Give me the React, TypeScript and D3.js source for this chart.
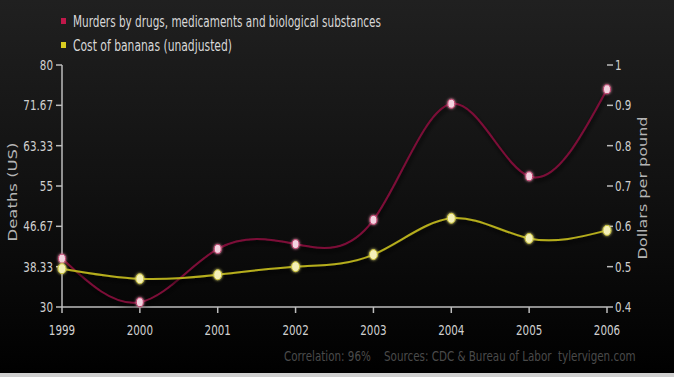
import React from "react";
import * as d3 from "d3";

const years = [1999, 2000, 2001, 2002, 2003, 2004, 2005, 2006];
const murders = [40, 31, 42, 43, 48, 72, 57, 75];
const bananas = [0.495, 0.47, 0.48, 0.5, 0.53, 0.62, 0.57, 0.59];
const leftTicks = [30, 38.33, 46.67, 55, 63.33, 71.67, 80];
const rightTicks = [0.4, 0.5, 0.6, 0.7, 0.8, 0.9, 1];
const legendLabels = [
  "Murders by drugs, medicaments and biological substances",
  "Cost of bananas (unadjusted)",
];
const footerParts = ["Correlation: 96%", "Sources: CDC & Bureau of Labor", "tylervigen.com"];

const W = 674;
const H = 377;
const X0 = 62;
const X1 = 607;
const Y0 = 307;
const Y1 = 65;
const SX = 0.74;

const font = "'DejaVu Sans', sans-serif";

function NText(props: {
  x: number;
  y: number;
  anchor?: string;
  size?: number;
  fill?: string;
  children: React.ReactNode;
}) {
  return (
    <text
      transform={`translate(${props.x},${props.y}) scale(${SX},1)`}
      textAnchor={props.anchor || "start"}
      fontFamily={font}
      fontSize={props.size || 14}
      fill={props.fill || "#cfcfcf"}
    >
      {props.children}
    </text>
  );
}

export default function App() {
  const x = d3.scaleLinear().domain([1999, 2006]).range([X0, X1]);
  const yL = d3.scaleLinear().domain([30, 80]).range([Y0, Y1]);
  const yR = d3.scaleLinear().domain([0.4, 1]).range([Y0, Y1]);

  const mPts = murders.map((v, i) => [x(years[i]), yL(v)] as [number, number]);
  const bPts = bananas.map((v, i) => [x(years[i]), yR(v)] as [number, number]);
  const line = d3.line().curve(d3.curveNatural);

  const crimson = "#7d0f38";
  const olive = "#b5ad1c";
  const axisC = "#bdbdbd";
  const footX = [284, 384, 558];

  return (
    <div style={{ position: "fixed", left: 0, top: 0 }}>
      <svg width={W} height={H} style={{ display: "block" }}>
        <defs>
          <linearGradient id="bg" x1="0" y1="0" x2="0" y2="1">
            <stop offset="0" stopColor="#202020" />
            <stop offset="0.5" stopColor="#111111" />
            <stop offset="1" stopColor="#000000" />
          </linearGradient>
          <filter id="sh" x="-10%" y="-10%" width="120%" height="130%">
            <feDropShadow dx="1" dy="3" stdDeviation="2" floodColor="#000" floodOpacity="0.9" />
          </filter>
          <filter id="glow" x="-100%" y="-100%" width="300%" height="300%">
            <feGaussianBlur stdDeviation="1.5" result="b" />
            <feMerge>
              <feMergeNode in="b" />
              <feMergeNode in="SourceGraphic" />
            </feMerge>
          </filter>
        </defs>
        <rect x={0} y={0} width={W} height={H} fill="url(#bg)" />
        <rect x={0} y={373} width={W} height={4} fill="#cfcfcf" />

        {/* Legend */}
        {legendLabels.map((t, i) => (
          <g key={t}>
            <rect x={61} y={18 + i * 24} width={5} height={6} fill={i === 0 ? "#c0184a" : "#d8cc20"} />
            <text
              x={73}
              y={27 + i * 24}
              fontFamily={font}
              fontSize={16}
              fill="#d8d8d8"
              textLength={i === 0 ? 308 : 159}
              lengthAdjust="spacingAndGlyphs"
            >
              {t}
            </text>
          </g>
        ))}

        {/* Axes */}
        <line x1={X0} x2={X0} y1={Y1} y2={Y0} stroke={axisC} strokeWidth={1.5} />
        <line x1={X0} x2={X1} y1={Y0} y2={Y0} stroke={axisC} strokeWidth={1.5} />
        {leftTicks.map((t) => (
          <g key={"l" + t}>
            <line x1={X0 - 6} x2={X0} y1={yL(t)} y2={yL(t)} stroke={axisC} strokeWidth={1.5} />
            <NText x={X0 - 9} y={yL(t) + 5} anchor="end">
              {t}
            </NText>
          </g>
        ))}
        {rightTicks.map((t) => (
          <g key={"r" + t}>
            <line x1={X1} x2={X1 + 6} y1={yR(t)} y2={yR(t)} stroke={axisC} strokeWidth={1.5} />
            <NText x={X1 + 8} y={yR(t) + 5}>
              {t}
            </NText>
          </g>
        ))}
        {years.map((yr) => (
          <g key={"x" + yr}>
            <line x1={x(yr)} x2={x(yr)} y1={Y0} y2={Y0 + 6} stroke={axisC} strokeWidth={1.5} />
            <NText x={x(yr)} y={Y0 + 28} anchor="middle" fill="#d0d0d0">
              {yr}
            </NText>
          </g>
        ))}

        {/* Axis titles */}
        <text
          transform={`translate(17, 192) rotate(-90)`}
          textAnchor="middle"
          fontFamily={font}
          fontSize={13}
          fill="#b5b5b5"
          textLength={99}
          lengthAdjust="spacingAndGlyphs"
        >
          Deaths (US)
        </text>
        <text
          transform={`translate(647, 188) rotate(-90)`}
          textAnchor="middle"
          fontFamily={font}
          fontSize={13}
          fill="#b5b5b5"
          textLength={143}
          lengthAdjust="spacingAndGlyphs"
        >
          Dollars per pound
        </text>

        {/* Lines */}
        <path d={line(mPts) || ""} fill="none" stroke={crimson} strokeWidth={2} filter="url(#sh)" />
        <path d={line(bPts) || ""} fill="none" stroke={olive} strokeWidth={2} filter="url(#sh)" />

        {mPts.map((q, i) => (
          <ellipse
            key={"m" + i}
            cx={q[0]}
            cy={q[1]}
            rx={3.5}
            ry={4.5}
            fill="#f3d3e0"
            stroke="#c03a6a"
            strokeWidth={1}
            filter="url(#glow)"
          />
        ))}
        {bPts.map((q, i) => (
          <ellipse
            key={"b" + i}
            cx={q[0]}
            cy={q[1]}
            rx={4}
            ry={5}
            fill="#f4f0b8"
            stroke="#c8c030"
            strokeWidth={1}
            filter="url(#glow)"
          />
        ))}

        {/* Footer */}
        {footerParts.map((t, i) => (
          <NText key={t} x={footX[i]} y={361} fill="#4a4a4a">
            {t}
          </NText>
        ))}
      </svg>
    </div>
  );
}
